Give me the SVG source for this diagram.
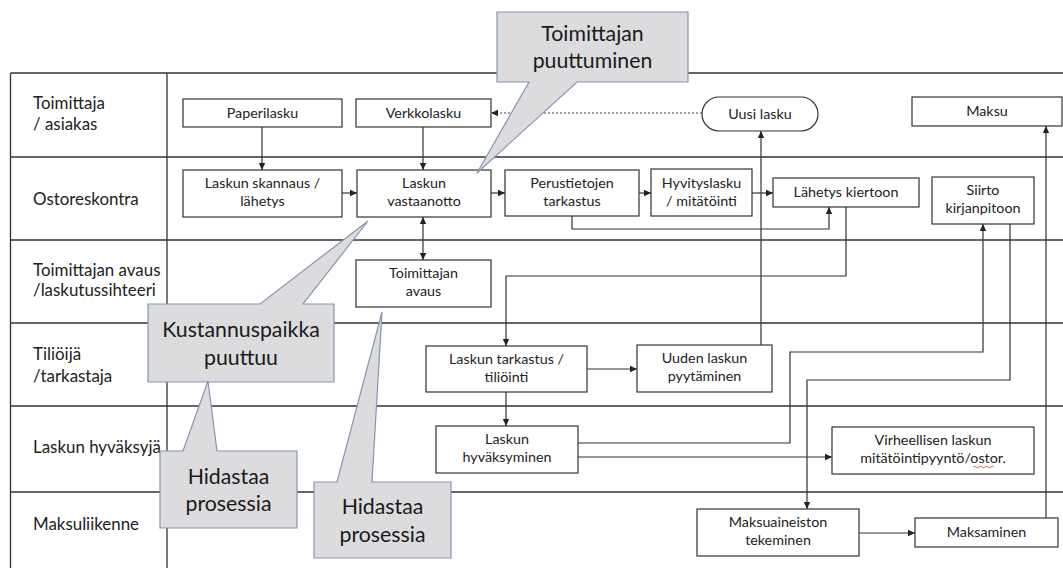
<svg xmlns="http://www.w3.org/2000/svg" width="1063" height="568" viewBox="0 0 1063 568">
  <style>
    .grid { stroke: #333; stroke-width: 1.3; fill: none; }
    .box { fill: #fff; stroke: #333; stroke-width: 1.2; }
    .lane { font-family: Lato, "Open Sans", sans-serif; font-size: 16.9px; fill: #222; }
    .t { font-family: Lato, "Open Sans", sans-serif; font-size: 14.3px; fill: #222; text-anchor: middle; }
    .edge { stroke: #333; stroke-width: 1.2; fill: none; }
    .dotted { stroke: #444; stroke-width: 1.2; fill: none; stroke-dasharray: 2 2; }
    .callout { fill: #dcdcdf; stroke: #8496b0; stroke-width: 1.2; }
    .ct { font-family: Lato, "Open Sans", sans-serif; font-size: 21.3px; fill: #1a1a1a; text-anchor: middle; }
  </style>
  <defs>
    <marker id="arrow" markerWidth="8" markerHeight="8" refX="7" refY="4" orient="auto" markerUnits="userSpaceOnUse">
      <path d="M0,0.8 L7,4 L0,7.2 Z" fill="#222"/>
    </marker>
    <marker id="arrowStart" markerWidth="8" markerHeight="8" refX="0" refY="4" orient="auto" markerUnits="userSpaceOnUse">
      <path d="M7,0.8 L0,4 L7,7.2 Z" fill="#222"/>
    </marker>
  </defs>
  <rect width="1063" height="568" fill="#fff"/>

  <!-- swimlane table -->
  <g id="lanes">
    <path class="grid" d="M10.5,73 V568 M167,73 V568 M10.5,73 H1063 M10.5,157 H1063 M10.5,240 H1063 M10.5,323 H1063 M10.5,406 H1063 M10.5,492 H1063"/>
    <text class="lane" x="33" y="109">Toimittaja</text>
    <text class="lane" x="33" y="130">/ asiakas</text>
    <text class="lane" x="33" y="205">Ostoreskontra</text>
    <text class="lane" x="33" y="276">Toimittajan avaus</text>
    <text class="lane" x="33" y="296">/laskutussihteeri</text>
    <text class="lane" x="33" y="360">Tiliöijä</text>
    <text class="lane" x="33" y="382">/tarkastaja</text>
    <text class="lane" x="33" y="453">Laskun hyväksyjä</text>
    <text class="lane" x="33" y="530">Maksuliikenne</text>
  </g>

  <!-- connectors -->
  <g id="connectors">
    <path class="edge" d="M262,127 V170" marker-end="url(#arrow)"/>
    <path class="edge" d="M423,127 V170" marker-end="url(#arrow)"/>
    <path class="dotted" d="M702,113 H491" marker-end="url(#arrow)"/>
    <path class="edge" d="M342,193 H357" marker-end="url(#arrow)"/>
    <path class="edge" d="M491,193 H505" marker-end="url(#arrow)"/>
    <path class="edge" d="M639,193 H651" marker-end="url(#arrow)"/>
    <path class="edge" d="M752,193 H773" marker-end="url(#arrow)"/>
    <path class="edge" d="M572,216 V229 H829 V207" marker-end="url(#arrow)"/>
    <path class="edge" d="M423,217 V260" marker-start="url(#arrowStart)" marker-end="url(#arrow)"/>
    <path class="edge" d="M846,207 V276 H506 V346" marker-end="url(#arrow)"/>
    <path class="edge" d="M587,369 H637" marker-end="url(#arrow)"/>
    <path class="edge" d="M761,345 V131" marker-end="url(#arrow)"/>
    <path class="edge" d="M506,392 V426" marker-end="url(#arrow)"/>
    <path class="edge" d="M578,443 H790 V352 H983 V224" marker-end="url(#arrow)"/>
    <path class="edge" d="M578,457 H832" marker-end="url(#arrow)"/>
    <path class="edge" d="M1010,224 V380 H807 V509" marker-end="url(#arrow)"/>
    <path class="edge" d="M859,533 H915" marker-end="url(#arrow)"/>
    <path class="edge" d="M1046,518 V126" marker-end="url(#arrow)"/>
  </g>

  <!-- process steps -->
  <g id="paperilasku">
    <rect class="box" x="183" y="99" width="159" height="28"/>
    <text class="t" x="262.5" y="118">Paperilasku</text>
  </g>
  <g id="verkkolasku">
    <rect class="box" x="356" y="99" width="135" height="28"/>
    <text class="t" x="423.5" y="118">Verkkolasku</text>
  </g>
  <g id="uusi-lasku">
    <rect class="box" x="702" y="97" width="116" height="34" rx="17"/>
    <text class="t" x="760" y="119">Uusi lasku</text>
  </g>
  <g id="maksu">
    <rect class="box" x="912" y="97" width="150" height="29"/>
    <text class="t" x="987" y="116">Maksu</text>
  </g>
  <g id="skannaus">
    <rect class="box" x="183" y="170" width="159" height="47"/>
    <text class="t" x="262.5" y="188">Laskun skannaus /</text>
    <text class="t" x="262.5" y="206">lähetys</text>
  </g>
  <g id="vastaanotto">
    <rect class="box" x="357" y="170" width="134" height="47"/>
    <text class="t" x="424" y="188">Laskun</text>
    <text class="t" x="424" y="206">vastaanotto</text>
  </g>
  <g id="perustietojen-tarkastus">
    <rect class="box" x="505" y="170" width="134" height="46"/>
    <text class="t" x="572" y="188">Perustietojen</text>
    <text class="t" x="572" y="206">tarkastus</text>
  </g>
  <g id="hyvityslasku">
    <rect class="box" x="651" y="169" width="101" height="47"/>
    <text class="t" x="701.5" y="188">Hyvityslasku</text>
    <text class="t" x="701.5" y="206">/ mitätöinti</text>
  </g>
  <g id="lahetys-kiertoon">
    <rect class="box" x="773" y="178" width="146" height="29"/>
    <text class="t" x="846" y="197">Lähetys kiertoon</text>
  </g>
  <g id="siirto-kirjanpitoon">
    <rect class="box" x="932" y="177" width="102" height="47"/>
    <text class="t" x="983" y="195">Siirto</text>
    <text class="t" x="983" y="213">kirjanpitoon</text>
  </g>
  <g id="toimittajan-avaus">
    <rect class="box" x="356" y="260" width="135" height="47"/>
    <text class="t" x="423.5" y="278">Toimittajan</text>
    <text class="t" x="423.5" y="296">avaus</text>
  </g>
  <g id="laskun-tarkastus">
    <rect class="box" x="426" y="346" width="161" height="46"/>
    <text class="t" x="506.5" y="364">Laskun tarkastus /</text>
    <text class="t" x="506.5" y="382">tiliöinti</text>
  </g>
  <g id="uuden-laskun-pyytaminen">
    <rect class="box" x="637" y="345" width="135" height="47"/>
    <text class="t" x="704.5" y="363">Uuden laskun</text>
    <text class="t" x="704.5" y="381">pyytäminen</text>
  </g>
  <g id="laskun-hyvaksyminen">
    <rect class="box" x="436" y="426" width="142" height="47"/>
    <text class="t" x="507" y="444">Laskun</text>
    <text class="t" x="507" y="462">hyväksyminen</text>
  </g>
  <g id="virheellisen-laskun">
    <rect class="box" x="832" y="427" width="202" height="47"/>
    <text class="t" x="933" y="445">Virheellisen laskun</text>
    <text class="t" x="933" y="463">mitätöintipyyntö/ostor.</text>
    <path d="M973,467 q1.5,-1.5 3,0 t3,0 t3,0 t3,0 t3,0 t3,0 t3,0" fill="none" stroke="#d33" stroke-width="0.8"/>
  </g>
  <g id="maksuaineiston-tekeminen">
    <rect class="box" x="697" y="509" width="162" height="47"/>
    <text class="t" x="778" y="527">Maksuaineiston</text>
    <text class="t" x="778" y="545">tekeminen</text>
  </g>
  <g id="maksaminen">
    <rect class="box" x="915" y="518" width="143" height="29"/>
    <text class="t" x="986.5" y="537">Maksaminen</text>
  </g>

  <!-- callouts -->
  <g id="callout-toimittajan-puuttuminen">
    <path class="callout" d="M497,12 H688 V82 H577 L477,173 L529,82 H497 Z"/>
    <text class="ct" x="592.5" y="41">Toimittajan</text>
    <text class="ct" x="592.5" y="68">puuttuminen</text>
  </g>
  <g id="callout-kustannuspaikka">
    <path class="callout" d="M148,304 H260 L368,221 L303,304 H334 V382 H148 Z"/>
    <text class="ct" x="241" y="337">Kustannuspaikka</text>
    <text class="ct" x="241" y="365">puuttuu</text>
  </g>
  <g id="callout-hidastaa-1">
    <path class="callout" d="M160,451 H183 L208,381 L217,451 H297 V528 H160 Z"/>
    <text class="ct" x="228.5" y="484">Hidastaa</text>
    <text class="ct" x="228.5" y="511">prosessia</text>
  </g>
  <g id="callout-hidastaa-2">
    <path class="callout" d="M314,482 H337 L382,312 L372,482 H451 V558 H314 Z"/>
    <text class="ct" x="382.5" y="514">Hidastaa</text>
    <text class="ct" x="382.5" y="542">prosessia</text>
  </g>
</svg>
